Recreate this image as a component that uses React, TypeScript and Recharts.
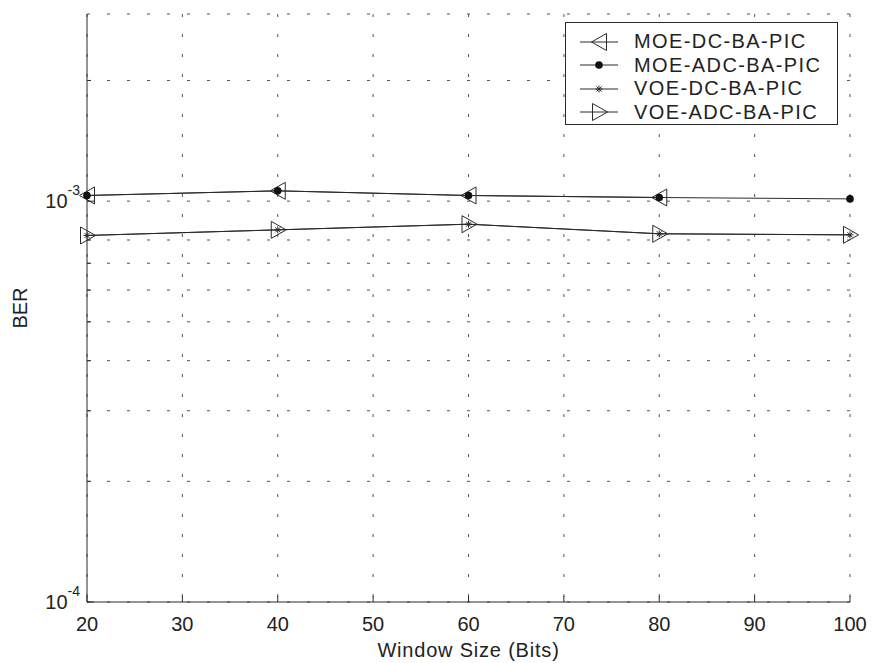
import React from 'react';
import { LineChart, Line, XAxis, YAxis, CartesianGrid } from 'recharts';

const windowSizes = [20, 40, 60, 80, 100];
const moeDc = [1.033e-3, 1.061e-3, 1.033e-3, 1.021e-3, null];
const moeAdc = [1.033e-3, 1.061e-3, 1.033e-3, 1.021e-3, 1.013e-3];
const voeDc = [8.21e-4, 8.48e-4, 8.76e-4, 8.29e-4, 8.24e-4];
const voeAdc = [8.21e-4, 8.48e-4, 8.76e-4, 8.29e-4, 8.24e-4];

const xTicks = [20, 30, 40, 50, 60, 70, 80, 90, 100];
const yTicks = [1e-4, 2e-4, 3e-4, 4e-4, 5e-4, 6e-4, 7e-4, 8e-4, 9e-4, 1e-3, 2e-3];
const yDomain = [1e-4, 2.93e-3];
const seriesNames = ['MOE-DC-BA-PIC', 'MOE-ADC-BA-PIC', 'VOE-DC-BA-PIC', 'VOE-ADC-BA-PIC'];

const data = windowSizes.map((w, i) => ({
  w,
  moeDc: moeDc[i],
  moeAdc: moeAdc[i],
  voeDc: voeDc[i],
  voeAdc: voeAdc[i],
}));

const FONT = '"Liberation Sans", Arial, Helvetica, sans-serif';
const INK = '#2a2a2a';

const LeftTri = ({ cx, cy }: any) => {
  if (cx == null || cy == null) return null;
  return <path d={`M${cx - 7.5},${cy} L${cx + 7.5},${cy - 8.5} L${cx + 7.5},${cy + 8.5} Z`} fill="none" stroke={INK} strokeWidth={1} />;
};

const RightTri = ({ cx, cy }: any) => {
  if (cx == null || cy == null) return null;
  return <path d={`M${cx + 8.5},${cy} L${cx - 6.5},${cy - 8.5} L${cx - 6.5},${cy + 8.5} Z`} fill="none" stroke={INK} strokeWidth={1} />;
};

const Dot = ({ cx, cy }: any) => {
  if (cx == null || cy == null) return null;
  return <circle cx={cx} cy={cy} r={3.8} fill="#111" />;
};

const Star = ({ cx, cy }: any) => {
  if (cx == null || cy == null) return null;
  const r = 3.5;
  return (
    <g stroke={INK} strokeWidth={1}>
      <line x1={cx - r} y1={cy} x2={cx + r} y2={cy} />
      <line x1={cx} y1={cy - r} x2={cx} y2={cy + r} />
      <line x1={cx - 2.5} y1={cy - 2.5} x2={cx + 2.5} y2={cy + 2.5} />
      <line x1={cx - 2.5} y1={cy + 2.5} x2={cx + 2.5} y2={cy - 2.5} />
    </g>
  );
};

const XTick = ({ x, y, payload }: any) => {
  const axisY = y - 6;
  return (
    <g>
      <line x1={x} y1={axisY} x2={x} y2={axisY - 6} stroke={INK} />
      <text x={x} y={y + 23} textAnchor="middle" fontSize={20} fontFamily={FONT} fill="#222">
        {payload.value}
      </text>
    </g>
  );
};

const YTick = ({ x, y, payload }: any) => {
  const axisX = x + 7;
  const v = payload.value;
  const exp = Math.round(Math.log10(v));
  const major = Math.abs(Math.log10(v) - exp) < 1e-6;
  return (
    <g>
      <line x1={axisX} y1={y} x2={axisX + (major ? 7 : 4)} y2={y} stroke={INK} />
      {major && (
        <text x={axisX - 7} y={y + 7} textAnchor="end" fontFamily={FONT} fill="#222">
          <tspan fontSize={20}>10</tspan>
          <tspan fontSize={14} dy={-13}>{String(exp)}</tspan>
        </text>
      )}
    </g>
  );
};

const BerLabel = ({ viewBox }: any) => {
  const x = viewBox.x + 27;
  const y = viewBox.y + viewBox.height / 2;
  return (
    <text x={x} y={y} transform={`rotate(-90, ${x}, ${y})`} textAnchor="middle" fontSize={20} fontFamily={FONT} fill="#222">
      BER
    </text>
  );
};

const LegendMark = ({ i }: { i: number }) => {
  const cx = 19, cy = 11;
  return (
    <svg width={38} height={22} style={{ display: 'block' }}>
      <line x1={0} y1={cy} x2={38} y2={cy} stroke={INK} strokeWidth={1} />
      {i === 0 && <LeftTri cx={cx} cy={cy} />}
      {i === 1 && <Dot cx={cx} cy={cy} />}
      {i === 2 && <Star cx={cx} cy={cy} />}
      {i === 3 && <RightTri cx={cx} cy={cy} />}
    </svg>
  );
};

export default function App() {
  return (
    <div style={{ position: 'absolute', left: 0, top: 0, width: 873, height: 663, background: '#fff' }}>
      <LineChart width={873} height={663} data={data} margin={{ top: 14, right: 23, bottom: 0, left: 0 }}>
        <CartesianGrid stroke="#555" strokeDasharray="3 17" strokeWidth={1} />
        <XAxis
          dataKey="w"
          type="number"
          domain={[20, 100]}
          ticks={xTicks}
          height={61}
          tickSize={0}
          tickMargin={6}
          tick={<XTick />}
          axisLine={{ stroke: INK }}
          label={{ value: 'Window Size (Bits)', position: 'insideBottom', offset: 6, fontSize: 20, fontFamily: FONT, fill: '#222', letterSpacing: 0.8 }}
        />
        <XAxis
          xAxisId="top"
          orientation="top"
          dataKey="w"
          type="number"
          domain={[20, 100]}
          ticks={xTicks}
          height={0}
          mirror
          tick={false}
          tickSize={6}
          tickLine={{ stroke: INK }}
          axisLine={{ stroke: INK }}
        />
        <YAxis
          scale="log"
          type="number"
          domain={yDomain}
          allowDataOverflow
          ticks={yTicks}
          width={87}
          tickSize={0}
          tickMargin={7}
          tick={<YTick />}
          axisLine={{ stroke: INK }}
          label={<BerLabel />}
        />
        <YAxis
          yAxisId="right"
          orientation="right"
          scale="log"
          type="number"
          domain={yDomain}
          allowDataOverflow
          ticks={yTicks}
          width={0}
          mirror
          tick={false}
          tickSize={4}
          tickLine={{ stroke: INK }}
          axisLine={{ stroke: INK }}
        />
        <Line dataKey="moeDc" stroke={INK} strokeWidth={1} dot={<LeftTri />} activeDot={false} isAnimationActive={false} connectNulls={false} />
        <Line dataKey="moeAdc" stroke={INK} strokeWidth={1} dot={<Dot />} activeDot={false} isAnimationActive={false} />
        <Line dataKey="voeAdc" stroke={INK} strokeWidth={1} dot={<RightTri />} activeDot={false} isAnimationActive={false} />
        <Line dataKey="voeDc" stroke={INK} strokeWidth={1} dot={<Star />} activeDot={false} isAnimationActive={false} />
      </LineChart>
      <div
        style={{
          position: 'absolute',
          left: 565,
          top: 22,
          width: 273,
          height: 103,
          border: `1px solid ${INK}`,
          background: '#fff',
          boxSizing: 'border-box',
          padding: '7px 0 0 14px',
          fontFamily: FONT,
          fontSize: 20,
          color: '#222',
        }}
      >
        {seriesNames.map((name, i) => (
          <div key={name} style={{ display: 'flex', alignItems: 'center', height: 23.5 }}>
            <LegendMark i={i} />
            <span style={{ marginLeft: 16, letterSpacing: 1.4, whiteSpace: 'nowrap' }}>{name}</span>
          </div>
        ))}
      </div>
    </div>
  );
}
